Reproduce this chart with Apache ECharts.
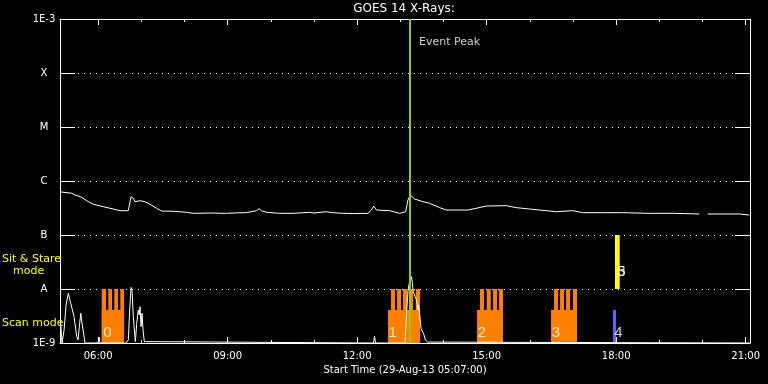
<!DOCTYPE html>
<html><head><meta charset="utf-8">
<script src="https://cdn.jsdelivr.net/npm/echarts@6/dist/echarts.min.js"></script>
<style>html,body{margin:0;padding:0;background:#000;}#c{width:768px;height:384px;}</style>
</head><body><div id="c"></div>
<script>
// ---- axis ranges / ticks (hours of day, flux W/m^2) ----
const xMin = 5 + 7 / 60;
const xMax = 21.1;
const majorHours = [6, 9, 12, 15, 18, 21];
const minorHours = [6, 7, 8, 9, 10, 11, 12, 13, 14, 15, 16, 17, 18, 19, 20, 21];
const yMin = 1e-9, yMax = 1e-3;
const yTickLabels = ['1E-9', 'A', 'B', 'C', 'M', 'X', '1E-3'];

// ---- GOES long channel (1-8 A) ----
const longTimes = [5.12, 5.39, 5.465, 5.62, 5.736, 5.89, 6.12, 6.351, 6.506, 6.698, 6.738, 6.761, 6.814, 6.853, 6.969, 7.085, 7.2, 7.355, 7.471, 7.74, 8.05, 8.202, 8.6, 8.975, 9.2, 9.438, 9.669, 9.729, 9.785, 9.901, 10.2, 10.516, 10.9, 11.0, 11.289, 11.4, 11.673, 11.9, 12.251, 12.33, 12.383, 12.446, 12.753, 12.985, 13.124, 13.177, 13.232, 13.332, 13.524, 13.679, 13.91, 14.065, 14.565, 14.759, 14.991, 15.454, 15.685, 15.993, 16.224, 16.61, 16.994, 17.226, 17.767, 18.151, 18.768, 19.308, 19.926, 20.02, 20.118, 20.852, 21.083];
const longFlux = [6.3e-7, 5.92e-7, 5.51e-7, 4.99e-7, 4.31e-7, 3.71e-7, 3.34e-7, 3.03e-7, 2.82e-7, 2.82e-7, 2.99e-7, 5.12e-7, 4.79e-7, 4.14e-7, 4.31e-7, 4.14e-7, 3.71e-7, 3.12e-7, 2.78e-7, 2.75e-7, 2.63e-7, 2.52e-7, 2.55e-7, 2.52e-7, 2.57e-7, 2.59e-7, 2.82e-7, 3.07e-7, 2.82e-7, 2.63e-7, 2.52e-7, 2.52e-7, 2.63e-7, 2.55e-7, 2.70e-7, 2.6e-7, 2.52e-7, 2.5e-7, 2.52e-7, 2.90e-7, 3.44e-7, 2.90e-7, 2.82e-7, 2.52e-7, 2.70e-7, 4.45e-7, 5.51e-7, 4.64e-7, 4.14e-7, 3.86e-7, 3.21e-7, 2.90e-7, 2.90e-7, 3.12e-7, 3.44e-7, 3.49e-7, 3.21e-7, 3.03e-7, 2.90e-7, 2.70e-7, 2.82e-7, 2.59e-7, 2.59e-7, 2.59e-7, 2.52e-7, 2.52e-7, 2.45e-7, null, 2.45e-7, 2.45e-7, 2.34e-7];

// ---- GOES short channel (0.5-4 A) ----
const shortTimes = [5.129, 5.164, 5.211, 5.257, 5.31, 5.337, 5.365, 5.395, 5.442, 5.504, 5.534, 5.565, 5.597, 5.627, 5.662, 5.697, 5.998, 6.021, 6.044, 6.646, 6.7, 6.727, 6.762, 6.785, 6.815, 6.839, 6.862, 6.894, 6.931, 6.952, 6.971, 6.994, 7.017, 7.04, 7.07, 7.11, 12.379, 12.403, 12.426, 13.109, 13.149, 13.179, 13.213, 13.26, 13.278, 13.301, 13.341, 13.38, 13.403, 13.422, 13.44, 13.457, 13.48, 13.519, 13.549, 13.579, 13.612, 13.635, 13.665, 21.09];
const shortFlux = [2.55e-9, 1e-9, 1.74e-9, 5.05e-9, 8.32e-9, 7.74e-9, 5.43e-9, 5.05e-9, 3.07e-9, 1.31e-9, 1.14e-9, 2.0e-9, 3.55e-9, 2.35e-9, 1.53e-9, 1e-9, 1e-9, 1.29e-9, 1e-9, 1e-9, 1.14e-9, 3.59e-9, 1.07e-8, 9.6e-9, 3.07e-9, 1.74e-9, 1.06e-9, 2.32e-9, 4.08e-9, 3.3e-9, 4.7e-9, 2.0e-9, 3.55e-9, 1.74e-9, 1.06e-9, 1e-9, 1e-9, 1.35e-9, 1e-9, 1e-9, 4.08e-9, 9.6e-9, 1.35e-8, 1.69e-8, 1.28e-8, 8.91e-9, 7.2e-9, 6.25e-9, 4.08e-9, 5.05e-9, 3.8e-9, 2.87e-9, 1.87e-9, 1.74e-9, 1.41e-9, 1.14e-9, 1.22e-9, 1.04e-9, 1e-9, 1e-9];

// ---- scan mode blocks (orange) ----
const scanStart = [6.083, 12.715, 14.777, 16.491];
const scanEnd = [6.600, 13.457, 15.379, 17.093];
const scanBaseTop = 4.1e-9;
const toothStart = [6.083, 6.236, 6.375, 6.514, 12.785, 12.924, 13.063, 13.202, 13.357, 14.846, 15.002, 15.148, 15.287, 16.561, 16.700, 16.839, 17.001];
const toothEnd = [6.183, 6.322, 6.460, 6.600, 12.877, 13.016, 13.155, 13.294, 13.457, 14.939, 15.094, 15.241, 15.379, 16.653, 16.792, 16.931, 17.093];
const toothTop = 1e-8;

// ---- observation 4 (blue, scan) and sit & stare (yellow) ----
const blueObs = [17.927, 17.996, 1e-9, 4.1e-9];
const yellowObs = [17.973, 18.082, 1e-8, 1e-7];

// ---- event peak ----
const eventPeakTime = 13.225;
const eventLabelFlux = 3.67e-4;

// ---- observation number labels ----
const obsLabelTimes = [6.218, 12.82, 14.893, 16.607, 18.05, 18.119, 18.119];
const obsLabelFlux = [1.56e-9, 1.56e-9, 1.53e-9, 1.53e-9, 1.56e-9, 2.04e-8, 2.04e-8];
const obsLabelText = ['0', '1', '2', '3', '4', '5', '3'];

const FONT = 'DejaVu Sans';
const pad2 = n => (n < 10 ? '0' : '') + n;

function rectRender(params, api) {
  const p1 = api.coord([api.value(0), api.value(3)]);
  const p2 = api.coord([api.value(1), api.value(2)]);
  return {
    type: 'rect',
    shape: { x: p1[0], y: p1[1], width: p2[0] - p1[0], height: p2[1] - p1[1] },
    style: { fill: api.visual('color') }
  };
}

const chart = echarts.init(document.getElementById('c'), null, { renderer: 'canvas' });

const xCommon = { type: 'value', min: xMin, max: xMax, gridIndex: 0 };
const option = {
  backgroundColor: '#000',
  animation: false,
  grid: { left: 60, right: 18, top: 19, bottom: 41, containLabel: false },
  graphic: [
    { type: 'text', x: 404, y: 9, style: { text: 'GOES 14 X-Rays:', fill: '#fff', font: '12px "DejaVu Sans"', align: 'center', verticalAlign: 'middle' } },
    { type: 'text', x: 2, y: 259, style: { text: 'Sit & Stare', fill: '#ffff00', font: '11px "DejaVu Sans"', align: 'left', verticalAlign: 'middle' } },
    { type: 'text', x: 13, y: 271, style: { text: 'mode', fill: '#ffff00', font: '11px "DejaVu Sans"', align: 'left', verticalAlign: 'middle' } },
    { type: 'text', x: 2, y: 323, style: { text: 'Scan mode', fill: '#ffff00', font: '11px "DejaVu Sans"', align: 'left', verticalAlign: 'middle' } }
  ],
  xAxis: [
    Object.assign({}, xCommon, {
      position: 'bottom',
      axisLine: { show: true, onZero: false, lineStyle: { color: '#fff', width: 1 } },
      axisTick: { show: true, inside: true, length: 6, customValues: majorHours, lineStyle: { color: '#fff' } },
      axisLabel: { show: true, customValues: majorHours, margin: 8, color: '#fff', fontFamily: FONT, fontSize: 10, formatter: v => pad2(Math.round(v)) + ':00' },
      splitLine: { show: false },
      name: 'Start Time (29-Aug-13 05:07:00)', nameLocation: 'middle', nameGap: 20,
      nameTextStyle: { color: '#fff', fontFamily: FONT, fontSize: 10 }
    }),
    Object.assign({}, xCommon, {
      position: 'top',
      axisLine: { show: true, onZero: false, lineStyle: { color: '#fff', width: 1 } },
      axisTick: { show: true, inside: true, length: 6, customValues: majorHours, lineStyle: { color: '#fff' } },
      axisLabel: { show: false }, splitLine: { show: false }
    }),
    Object.assign({}, xCommon, {
      position: 'bottom',
      axisLine: { show: false, onZero: false },
      axisTick: { show: true, inside: true, length: 3, customValues: minorHours, lineStyle: { color: '#fff' } },
      axisLabel: { show: false }, splitLine: { show: false }
    }),
    Object.assign({}, xCommon, {
      position: 'top',
      axisLine: { show: false, onZero: false },
      axisTick: { show: true, inside: true, length: 3, customValues: minorHours, lineStyle: { color: '#fff' } },
      axisLabel: { show: false }, splitLine: { show: false }
    })
  ],
  yAxis: [
    {
      type: 'log', logBase: 10, min: yMin, max: yMax, position: 'left', splitNumber: 6,
      axisLine: { show: true, onZero: false, lineStyle: { color: '#fff', width: 1 } },
      axisTick: { show: true, inside: true, length: 15, lineStyle: { color: '#fff' } },
      axisLabel: {
        show: true, color: '#fff', fontFamily: FONT, fontSize: 10, margin: 16, align: 'center',
        formatter: v => { const i = Math.round(Math.log10(v)) + 9; return yTickLabels[i] || ''; }
      },
      splitLine: { show: true, lineStyle: { color: '#fff', width: 1, type: [1, 5] } }
    },
    {
      type: 'log', logBase: 10, min: yMin, max: yMax, position: 'right', splitNumber: 6,
      axisLine: { show: true, onZero: false, lineStyle: { color: '#fff', width: 1 } },
      axisTick: { show: true, inside: true, length: 15, lineStyle: { color: '#fff' } },
      axisLabel: { show: false }, splitLine: { show: false }
    }
  ],
  series: [
    {
      type: 'custom', name: 'scan blocks', renderItem: rectRender, z: 1,
      itemStyle: { color: '#ff8000' }, encode: { x: [0, 1], y: [2, 3] },
      data: scanStart.map((s, i) => [s, scanEnd[i], yMin, scanBaseTop])
    },
    {
      type: 'custom', name: 'scan teeth', renderItem: rectRender, z: 1,
      itemStyle: { color: '#ff8000' }, encode: { x: [0, 1], y: [2, 3] },
      data: toothStart.map((s, i) => [s, toothEnd[i], yMin, toothTop])
    },
    {
      type: 'custom', name: 'obs 4', renderItem: rectRender, z: 1,
      itemStyle: { color: '#6060ff' }, encode: { x: [0, 1], y: [2, 3] },
      data: [blueObs]
    },
    {
      type: 'custom', name: 'sit stare', renderItem: rectRender, z: 1,
      itemStyle: { color: '#ffff00' }, encode: { x: [0, 1], y: [2, 3] },
      data: [yellowObs]
    },
    {
      type: 'line', name: 'long', symbol: 'none', z: 3, connectNulls: false,
      lineStyle: { color: '#fff', width: 1 },
      data: longTimes.map((t, i) => [t, longFlux[i] === null ? '-' : longFlux[i]])
    },
    {
      type: 'line', name: 'short', symbol: 'none', z: 3,
      lineStyle: { color: '#fff', width: 1 },
      data: shortTimes.map((t, i) => [t, shortFlux[i]])
    },
    {
      type: 'scatter', name: 'event', symbolSize: 0, z: 5,
      data: [[eventPeakTime, eventLabelFlux]],
      label: { show: true, position: 'right', distance: 9, formatter: 'Event Peak', color: '#fff', fontFamily: FONT, fontSize: 11 },
      markLine: {
        silent: true, symbol: 'none', z: 4,
        lineStyle: { color: '#99cc00', width: 2, type: 'solid' },
        label: { show: false },
        data: [{ xAxis: eventPeakTime }]
      }
    },
    {
      type: 'scatter', name: 'obs labels', symbolSize: 0, z: 6,
      data: obsLabelTimes.map((t, i) => ({ value: [t, obsLabelFlux[i]], name: obsLabelText[i] })),
      label: { show: true, position: 'inside', formatter: p => p.name, color: '#fff', fontFamily: 'Liberation Sans', fontSize: 15 }
    }
  ]
};
chart.setOption(option);
</script>
</body></html>
